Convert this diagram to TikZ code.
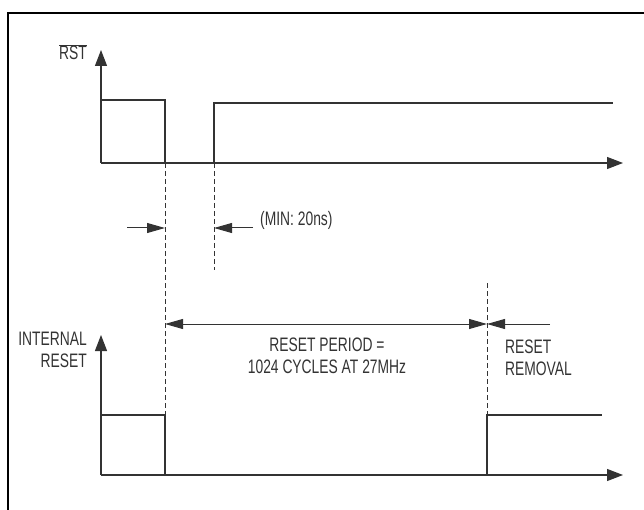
\documentclass[tikz,border=0pt]{standalone}
\usepackage{fontspec}
\setmainfont{Liberation Sans}[FakeStretch=0.71]
\usetikzlibrary{arrows.meta,positioning}

\begin{document}
\begin{tikzpicture}[
    x=1pt, y=-1pt,
    sig/.style={line width=1.2pt, draw=black!80},
    axis/.style={line width=1.2pt, draw=black!80, -{Triangle[length=16pt,width=12pt]}},
    guide/.style={line width=1pt, draw=black!80, dash pattern=on 5pt off 3pt},
    dim/.style={line width=1pt, draw=black!80, -{Triangle[length=18pt,width=10pt]}},
    lbl/.style={font=\fontsize{19.5}{21.5}\selectfont, text=black!80, inner sep=0pt}
]
    \useasboundingbox (0,0) rectangle (644,510);
    % frame
    \draw[line width=2pt] (8,512) -- (8,13) -- (646,13);

    % RST axes
    \coordinate (t0) at (101,163);
    \coordinate (tup) at (101,50);
    \coordinate (tend) at (623,163);
    \coordinate (fall) at (165,163);
    \coordinate (rise) at (214,163);
    \draw[axis] (t0) -- (tup);
    \draw[axis] (t0) -- (tend);
    \node[lbl, anchor=base east] (rst) at (87,60) {$\overline{\mbox{RST}}$};

    % RST waveform
    \draw[sig] (101,100) -| (fall);
    \draw[sig] (rise) |- (613,103);

    % INTERNAL RESET axes
    \coordinate (b0) at (101,475);
    \coordinate (bup) at (101,335);
    \coordinate (bend) at (623,475);
    \coordinate (bfall) at (165,475);
    \coordinate (brise) at (487,475);
    \draw[axis] (b0) -- (bup);
    \draw[axis] (b0) -- (bend);
    \node[lbl, anchor=base east, align=right] (intrst) at (87,367) {INTERNAL\\RESET};

    % INTERNAL RESET waveform
    \draw[sig] (101,415) -| (bfall);
    \draw[sig] (brise) |- (602,415);

    % guides
    \coordinate (g1) at (214,270);
    \coordinate (g2) at (487,283);
    \draw[guide] (fall) -- (165,415);
    \draw[guide] (rise) -- (g1);
    \draw[guide] (g2) -- (487,415);

    % min pulse width
    \coordinate (m1) at (127,228);
    \coordinate (m2) at (253,228);
    \draw[dim] (m1) -- (165,228);
    \draw[dim] (m2) -- (214,228);
    \node[lbl, anchor=base west] (minlbl) at (260,226) {(MIN: 20ns)};

    % reset period
    \coordinate (p1) at (165,324);
    \coordinate (p2) at (487,324);
    \coordinate (p3) at (550,324);
    \draw[dim, {Triangle[length=18pt,width=10pt]}-{Triangle[length=18pt,width=10pt]}] (p1) -- (p2);
    \draw[dim] (p3) -- (p2);
    \node[lbl, anchor=base, align=center] (period) at (327,373) {RESET PERIOD =\\1024 CYCLES AT 27MHz};
    \node[lbl, anchor=base west, align=left] (removal) at (505,375) {RESET\\REMOVAL};
\end{tikzpicture}
\end{document}
